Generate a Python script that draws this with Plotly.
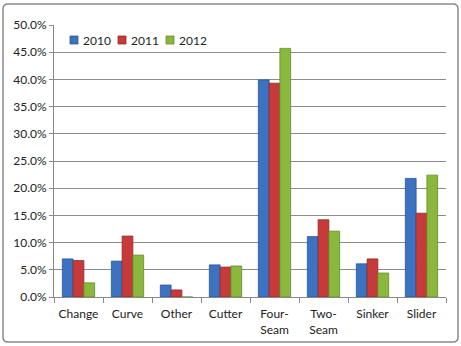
import plotly.graph_objects as go

categories = ["Change", "Curve", "Other", "Cutter", "Four-<br>Seam", "Two-<br>Seam", "Sinker", "Slider"]
s2010 = [7.0, 6.6, 2.2, 5.9, 39.9, 11.1, 6.1, 21.8]
s2011 = [6.7, 11.2, 1.3, 5.5, 39.3, 14.2, 7.0, 15.4]
s2012 = [2.6, 7.7, 0.0, 5.7, 45.7, 12.1, 4.4, 22.4]
series_names = ["2010", "2011", "2012"]
colors = ["#3b72c2", "#c63a3a", "#8ab83c"]
edge = ["#2a5494", "#932a2a", "#668a2a"]
tick_vals = [0, 5, 10, 15, 20, 25, 30, 35, 40, 45, 50]
tick_text = [f"{v:.1f}%" for v in tick_vals]

W, H = 461, 346
ml, mr, mt, mb = 54, 15, 25, 49
pw, ph = W - ml - mr, H - mt - mb


def px(x):
    return (x - ml) / pw


def py(y):
    return (H - mb - y) / ph


fig = go.Figure()
for name, vals, c, e in zip(series_names, [s2010, s2011, s2012], colors, edge):
    fig.add_trace(go.Bar(x=categories, y=vals, name=name, showlegend=False,
                         marker=dict(color=c, line=dict(color=e, width=0.8))))

fig.update_layout(
    width=W, height=H,
    margin=dict(l=ml, r=mr, t=mt, b=mb, autoexpand=False),
    paper_bgcolor="white", plot_bgcolor="white",
    font=dict(family="Lato, Open Sans, sans-serif", size=12, color="#222"),
    barmode="group", bargap=0.34, bargroupgap=0.0,
    xaxis=dict(showgrid=False, ticks="outside", tickson="boundaries", ticklen=5,
               tickcolor="#888", showline=True, linecolor="#888", linewidth=1,
               tickfont=dict(size=12), ticklabelstandoff=6, automargin=False),
    yaxis=dict(range=[0, 50], tickvals=tick_vals, ticktext=tick_text,
               showgrid=True, gridcolor="#8c8c8c", gridwidth=1,
               ticks="outside", ticklen=4, tickcolor="#888",
               showline=True, linecolor="#888", linewidth=1, zeroline=False,
               tickfont=dict(size=12), automargin=False),
)

# legend (drawn manually to match compact Excel-style spacing)
for i, (name, c, e) in enumerate(zip(series_names, colors, edge)):
    sx = 70 + 48 * i
    fig.add_shape(type="rect", xref="paper", yref="paper",
                  x0=px(sx), x1=px(sx + 8), y0=py(44), y1=py(36),
                  fillcolor=c, line=dict(color=e, width=0.8))
    fig.add_annotation(xref="paper", yref="paper", x=px(sx + 11), y=py(40),
                       xanchor="left", yanchor="middle", text=name, showarrow=False,
                       font=dict(size=12, color="#222"))

# outer chart border with rounded corners
L, R, T, B, r = 3, 458, 4, 342, 5
path = (f"M {px(L+r)},{py(T)} L {px(R-r)},{py(T)} Q {px(R)},{py(T)} {px(R)},{py(T+r)} "
        f"L {px(R)},{py(B-r)} Q {px(R)},{py(B)} {px(R-r)},{py(B)} "
        f"L {px(L+r)},{py(B)} Q {px(L)},{py(B)} {px(L)},{py(B-r)} "
        f"L {px(L)},{py(T+r)} Q {px(L)},{py(T)} {px(L+r)},{py(T)} Z")
fig.add_shape(type="path", xref="paper", yref="paper", path=path,
              line=dict(color="#8a8a8a", width=1.5), fillcolor="rgba(0,0,0,0)", layer="below")

fig.write_html("out.html")
